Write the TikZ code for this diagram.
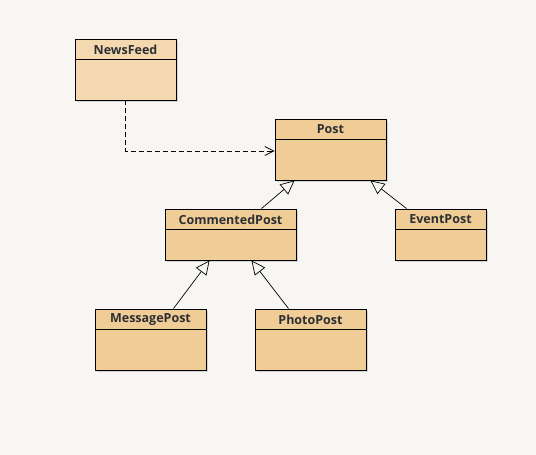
\documentclass[tikz,border=0pt]{standalone}
\usepackage{fontspec}
\setmainfont{Open Sans}
\usetikzlibrary{calc,arrows.meta,shadows}
\definecolor{paper}{RGB}{247,246,242}
\definecolor{classfill}{RGB}{240,204,150}
\definecolor{feedfill}{RGB}{243,216,176}
\definecolor{ink}{RGB}{45,47,50}
\begin{document}
\begin{tikzpicture}[x=1pt, y=-1pt,
    classbox/.style={draw, line width=0.9pt, fill=classfill, inner sep=0pt,
        drop shadow={shadow xshift=1.5pt, shadow yshift=-1.5pt, fill=black!30, opacity=0.5}},
    classname/.style={font=\bfseries\fontsize{12.5}{14}\selectfont, text=ink, inner sep=0pt},
    inherits/.style={draw, line width=0.7pt, -{Triangle[open, length=14pt, width=13pt, fill=paper]}},
    uses/.style={draw, line width=0.7pt, dash pattern=on 5pt off 3pt, -{Straight Barb[length=9pt, width=9pt]}}]
    \useasboundingbox[fill=paper] (0,0) rectangle (536,455);

    \node[classbox, fill=feedfill, minimum width=101pt, minimum height=61pt] (newsfeed) at (125.5,69.5) {};
    \node[classbox, minimum width=111pt, minimum height=61pt] (post) at (330.5,149.5) {};
    \node[classbox, minimum width=131pt, minimum height=51pt] (commented) at (230.5,234.5) {};
    \node[classbox, minimum width=91pt, minimum height=51pt] (event) at (440.5,234.5) {};
    \node[classbox, minimum width=111pt, minimum height=61pt] (message) at (150.5,339.5) {};
    \node[classbox, minimum width=111pt, minimum height=61pt] (photo) at (310.5,339.5) {};

    % header lines and class names
    \foreach \cls/\txt in {newsfeed/NewsFeed, post/Post, commented/CommentedPost,
                           event/EventPost, message/MessagePost, photo/PhotoPost} {
        \draw[line width=0.9pt] ($(\cls.north west)+(0,21)$) -- ($(\cls.north east)+(0,21)$);
        \node[classname] (\cls_name) at ($(\cls.north)+(0,11)$) {\txt};
    }

    \draw[uses] (newsfeed.south) |- (post.west |- 0,151);

    \path
        ($(commented.north)+(31,0)$) edge[inherits] ($(post.south west)+(20,0)$)
        ($(event.north west)+(12,0)$) edge[inherits] ($(post.south east)+(-16,0)$)
        ($(message.north)+(23,0)$) edge[inherits] ($(commented.south west)+(45,0)$)
        ($(photo.north)+(-22,0)$) edge[inherits] ($(commented.south east)+(-45,0)$);
\end{tikzpicture}
\end{document}
